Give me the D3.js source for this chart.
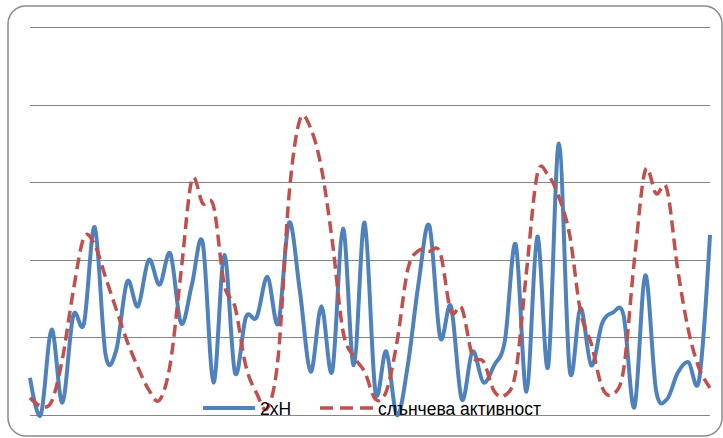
<!DOCTYPE html>
<html>
<head>
<meta charset="utf-8">
<script src="https://cdn.jsdelivr.net/npm/d3@7"></script>
<style>
  html, body { margin: 0; padding: 0; background: #fff; }
  svg { display: block; }
</style>
</head>
<body>
<svg id="chart" width="723" height="438"></svg>
<script>
// Years on the category axis
const years = [
  1932, 1933, 1934, 1935, 1936, 1937, 1938, 1939, 1940, 1941,
  1942, 1943, 1944, 1945, 1946, 1947, 1948, 1949, 1950, 1951,
  1952, 1953, 1954, 1955, 1956, 1957, 1958, 1959, 1960, 1961,
  1962, 1963, 1964, 1965, 1966, 1967, 1968, 1969, 1970, 1971,
  1972, 1973, 1974, 1975, 1976, 1977, 1978, 1979, 1980, 1981,
  1982, 1983, 1984, 1985, 1986, 1987, 1988, 1989, 1990, 1991,
  1992, 1993, 1994, 1995
];

// Series "2хН"
const series2xH = [
  24, 0, 55, 8, 64, 59, 121, 39, 42, 86,
  70, 100, 84, 104, 59, 84, 111, 21, 103, 27,
  63, 63, 89, 59, 124, 80, 28, 70, 28, 120,
  32, 124, 15, 41, 0, 32, 85, 122, 50, 70,
  10, 41, 21, 32, 48, 110, 15, 115, 31, 175,
  29, 69, 32, 59, 66, 64, 5, 90, 16, 10,
  27, 34, 23, 116
];

// Series "слънчева активност" (yearly sunspot number)
const sunspots = [
  11.1, 5.7, 8.7, 36.1, 79.7, 114.4, 109.6, 88.8, 67.8, 47.5,
  30.6, 16.3, 9.6, 33.2, 92.6, 151.6, 136.3, 134.7, 83.9, 69.4,
  31.5, 13.9, 4.4, 38.0, 141.7, 190.2, 184.8, 159.0, 112.3, 53.9,
  37.6, 27.9, 10.2, 15.1, 47.0, 93.8, 105.9, 105.5, 104.5, 66.6,
  68.9, 38.0, 34.5, 15.5, 12.6, 27.5, 92.5, 155.4, 154.6, 140.4,
  115.9, 66.6, 45.9, 17.9, 13.4, 29.4, 100.2, 157.6, 142.6, 145.7,
  94.3, 54.6, 29.9, 17.5
];

// Value axis gridlines
const yTicks = [0, 50, 100, 150, 200, 250];

const seriesNames = ["2хН", "слънчева активност"];
const colors = ["#4F81BD", "#C0504D"];

const svg = d3.select("#chart");
const plot = { left: 30, right: 710, top: 27, bottom: 415 };

// Chart area frame
svg.append("rect")
  .attr("x", 8).attr("y", 6)
  .attr("width", 714).attr("height", 430)
  .attr("rx", 18).attr("ry", 18)
  .attr("fill", "#fff")
  .attr("stroke", "#8a8a8a")
  .attr("stroke-width", 1.5);

const x = d3.scalePoint()
  .domain(years)
  .range([plot.left, plot.right]);

const y = d3.scaleLinear()
  .domain([0, 250])
  .range([plot.bottom, plot.top]);

// Horizontal gridlines, no labels
const grid = svg.append("g")
  .attr("transform", `translate(${plot.left},0)`)
  .call(d3.axisLeft(y)
    .tickValues(yTicks)
    .tickSize(-(plot.right - plot.left))
    .tickFormat(""));
grid.select(".domain").remove();
grid.selectAll(".tick line")
  .attr("stroke", "#868686")
  .attr("stroke-width", 1)
  .attr("shape-rendering", "crispEdges");

const line = d3.line()
  .x((d, i) => x(years[i]))
  .y(d => y(d))
  .curve(d3.curveCardinal.tension(0));

svg.append("path")
  .datum(series2xH)
  .attr("d", line)
  .attr("fill", "none")
  .attr("stroke", colors[0])
  .attr("stroke-width", 4)
  .attr("stroke-linejoin", "round");

svg.append("path")
  .datum(sunspots)
  .attr("d", line)
  .attr("fill", "none")
  .attr("stroke", colors[1])
  .attr("stroke-width", 3.5)
  .attr("stroke-dasharray", "12,6");

// Legend
const legend = svg.append("g").attr("font-family", "'Liberation Sans', Arial, sans-serif")
  .attr("font-size", 17.5).attr("fill", "#000");

const legendItems = [
  { x1: 203, x2: 255, tx: 260, dash: null, width: 4 },
  { x1: 320, x2: 374, tx: 378, dash: "13,7", width: 3.5 }
];
legendItems.forEach((it, i) => {
  legend.append("line")
    .attr("x1", it.x1).attr("x2", it.x2)
    .attr("y1", 408).attr("y2", 408)
    .attr("stroke", colors[i])
    .attr("stroke-width", it.width)
    .attr("stroke-dasharray", it.dash);
  legend.append("text")
    .attr("x", it.tx).attr("y", 414.5)
    .text(seriesNames[i]);
});
</script>
</body>
</html>
